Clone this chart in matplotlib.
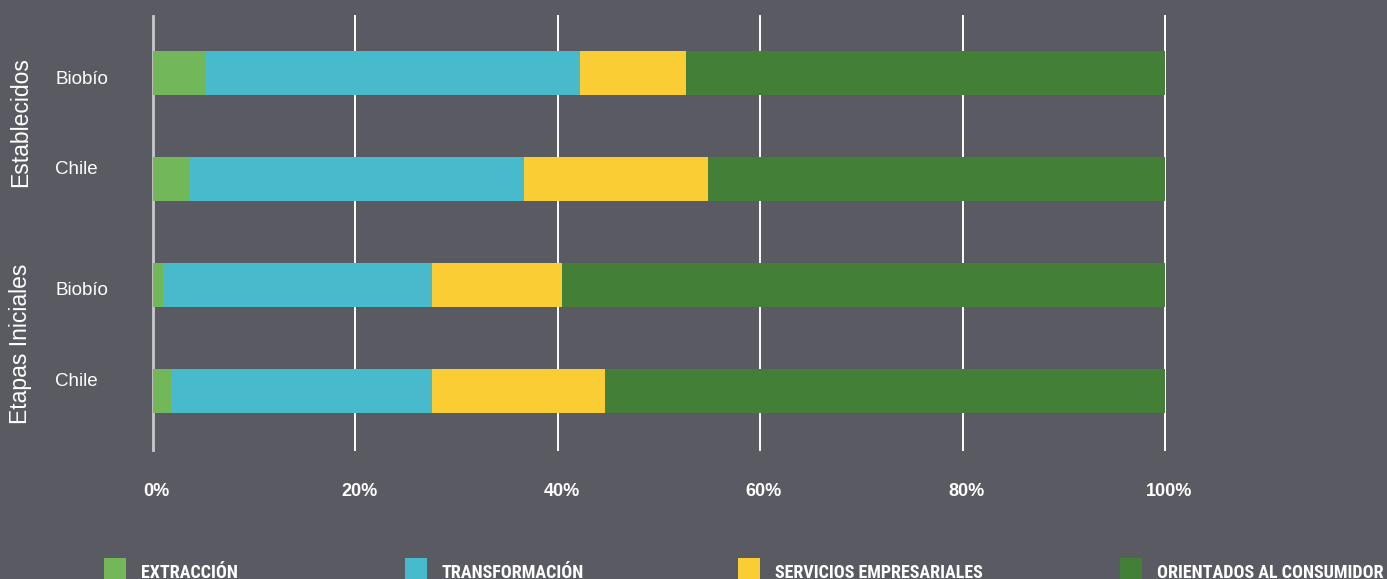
import matplotlib
matplotlib.use("Agg")
import matplotlib.pyplot as plt
import matplotlib.transforms as mtransforms
from matplotlib import font_manager
from matplotlib.patches import Rectangle

# datos (porcentaje de cada sector)
categorias = ['Biobío', 'Chile', 'Biobío', 'Chile']
grupos = ['Establecidos', 'Etapas Iniciales']
sectores = ['EXTRACCIÓN', 'TRANSFORMACIÓN', 'SERVICIOS EMPRESARIALES', 'ORIENTADOS AL CONSUMIDOR']
extraccion = [5.3, 3.7, 1.0, 1.8]
transformacion = [36.9, 33.0, 26.6, 25.8]
servicios = [10.5, 18.2, 12.8, 17.1]
orientados = [47.3, 45.1, 59.6, 55.3]
ticks_x = [0, 20, 40, 60, 80, 100]

fondo = '#5a5a62'
colores = ['#72b85b', '#47bbcb', '#f9cd33', '#437f37']

W, H = 1387, 579
fig = plt.figure(figsize=(W / 100, H / 100), dpi=100, facecolor=fondo)
ax = fig.add_axes([152.5 / W, 1 - 450 / H, (1165 - 152.5) / W, (450 - 16) / H])
ax.set_facecolor(fondo)

# fuente condensada para la leyenda, si existe
nombres = {f.name for f in font_manager.fontManager.ttflist}
fuente_leyenda = 'DejaVu Sans'
for n in ['Liberation Sans Narrow', 'Roboto Condensed', 'DejaVu Sans Condensed']:
    if n in nombres:
        fuente_leyenda = n
        break

# barras apiladas
pos = list(range(len(categorias)))
izq = [0] * len(categorias)
for serie, color in zip([extraccion, transformacion, servicios, orientados], colores):
    ax.barh(pos, serie, left=izq, height=0.415, color=color, zorder=3)
    izq = [a + b for a, b in zip(izq, serie)]

ax.set_xlim(0, 100)
ax.set_ylim(3.56, -0.54)
ax.set_xticks(ticks_x)
ax.set_xticklabels([f'{t}%' for t in ticks_x], color='white', fontweight='bold',
                   fontsize=13, family='Liberation Sans')
ax.tick_params(axis='x', length=0, pad=24)
for lab in ax.get_xticklabels():
    lab.set_transform(lab.get_transform() + mtransforms.ScaledTranslation(4 / 100, 0, fig.dpi_scale_trans))

ax.set_yticks(pos)
ax.set_yticklabels(categorias, color='white', fontsize=13.5, family='Liberation Sans', ha='left')
ax.tick_params(axis='y', length=0, pad=70)
# las etiquetas del original no estan centradas en la barra
desplaz = [-4, 12, -4, 11]
for lab, d in zip(ax.get_yticklabels(), desplaz):
    lab.set_transform(lab.get_transform() + mtransforms.ScaledTranslation(0, d / 100, fig.dpi_scale_trans))

for s in ax.spines.values():
    s.set_visible(False)

ax.grid(axis='x', color='white', linewidth=1.4, zorder=0)
ax.set_axisbelow(True)
for i, linea in enumerate(ax.get_xgridlines()):
    linea.set_clip_on(False)
    if i == 0:
        linea.set_color('#c8c8ce')
        linea.set_linewidth(2)

# etiquetas de grupo
trans = mtransforms.blended_transform_factory(fig.transFigure, ax.transData)
for g, yc in zip(grupos, [0.46, 2.56]):
    ax.text(21 / W, yc, g, transform=trans, rotation=90, ha='center', va='center',
            color='white', fontsize=16.5, family='Liberation Sans')

# leyenda
x_cuadro = [104, 405, 738, 1120]
for xc, nombre, color in zip(x_cuadro, sectores, colores):
    fig.patches.append(Rectangle((xc / W, -1 / H), 22 / W, 22 / H, transform=fig.transFigure,
                                 facecolor=color, edgecolor='none'))
    fig.text((xc + 37) / W, 1.5 / H, nombre, color='white', fontsize=13, fontweight='bold',
             family=fuente_leyenda, ha='left', va='baseline')

fig.savefig('out.png', dpi=100, facecolor=fondo)
